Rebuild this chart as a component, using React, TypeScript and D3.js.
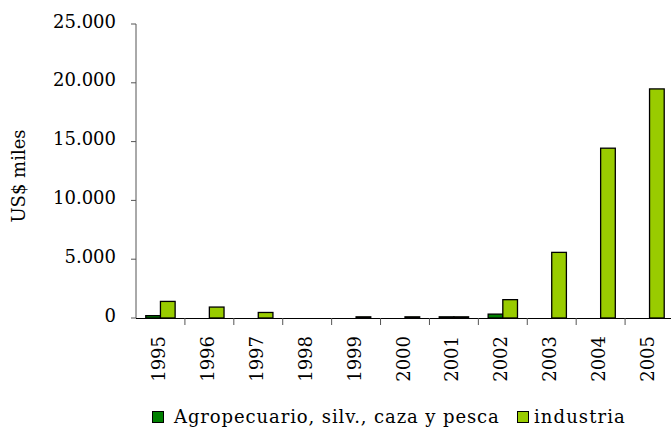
import React from "react";
import * as d3 from "d3";

const years = ["1995","1996","1997","1998","1999","2000","2001","2002","2003","2004","2005"];
const agro = [200, 0, 0, 0, 0, 0, 100, 330, 0, 0, 0];
const industria = [1410, 930, 470, 0, 100, 100, 100, 1560, 5580, 14440, 19480];
const yTicks = [0, 5000, 10000, 15000, 20000, 25000];
const seriesNames = ["Agropecuario, silv., caza y pesca", "industria"];
const colors = ["#008000", "#99cc00"];

const W = 671, H = 427;
const left = 136, top = 24, bottom = 318, right = 674;
const FONT = "DejaVu Serif";

const locale = d3.formatLocale({ decimal: ",", thousands: ".", grouping: [3], currency: ["", ""] });
const fmt = locale.format(",d");

export default function App() {
  const x = d3.scaleBand().domain(years).range([left, right]).paddingInner(0).paddingOuter(0);
  const inner = d3.scaleBand().domain(["a", "i"]).range([0, x.bandwidth()]).paddingInner(0).paddingOuter(0.667);
  const y = d3.scaleLinear().domain([0, 25000]).range([bottom, top]);
  const series = [agro, industria];
  return (
    <svg width={W} height={H} style={{ position: "absolute", left: 0, top: 0 }} fontFamily={FONT}>
      <rect width={W} height={H} fill="#fff" />
      {years.map((yr, i) =>
        series.map((s, k) => {
          const v = s[i];
          if (v <= 0) return null;
          const bx = (x(yr) as number) + (inner(k === 0 ? "a" : "i") as number);
          return (
            <rect key={yr + k} x={bx} y={y(v)} width={inner.bandwidth()} height={bottom - y(v)}
              fill={colors[k]} stroke="#000" strokeWidth={1.3} />
          );
        })
      )}
      <line x1={left} x2={left} y1={top} y2={bottom} stroke="#555" strokeWidth={1} />
      <line x1={left} x2={right} y1={bottom + 0.5} y2={bottom + 0.5} stroke="#000" strokeWidth={1} />
      {yTicks.map((t) => (
        <g key={t}>
          <line x1={left - 5} x2={left} y1={y(t)} y2={y(t)} stroke="#555" />
          <text x={left - 20} y={y(t)} dy="0.2em" textAnchor="end" fontSize={18} fill="#000">{fmt(t)}</text>
        </g>
      ))}
      {years.map((yr) => (
        <line key={"t" + yr} x1={(x(yr) as number) + x.bandwidth()} x2={(x(yr) as number) + x.bandwidth()}
          y1={bottom} y2={bottom + 7} stroke="#555" />
      ))}
      {years.map((yr) => {
        const cx = (x(yr) as number) + x.bandwidth() / 2;
        return (
          <text key={"l" + yr} transform={`translate(${cx + 4.5},${336}) rotate(-90)`} textAnchor="end" fontSize={18} fill="#000">{yr}</text>
        );
      })}
      <text transform={`translate(${25},${176}) rotate(-90)`} textAnchor="middle" fontSize={18} fill="#000">US$ miles</text>
      <g>
        <rect x={152.5} y={411.5} width={11} height={11} fill={colors[0]} stroke="#000" />
        <text x={174} y={423} fontSize={18} letterSpacing={0.9} fill="#000">{seriesNames[0]}</text>
        <rect x={517.5} y={411.5} width={11} height={11} fill={colors[1]} stroke="#000" />
        <text x={534} y={423} fontSize={18} letterSpacing={1.1} fill="#000">{seriesNames[1]}</text>
      </g>
    </svg>
  );
}
